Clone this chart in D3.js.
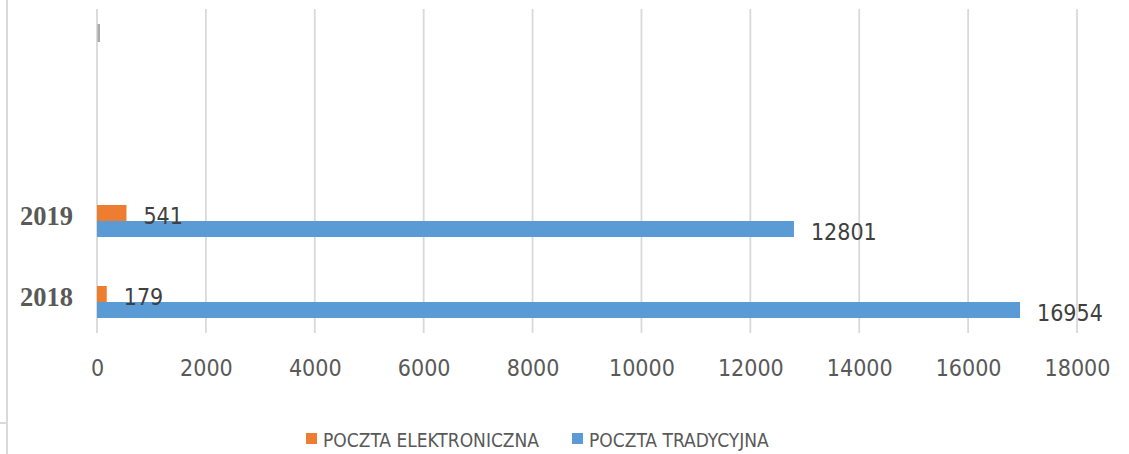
<!DOCTYPE html>
<html>
<head>
<meta charset="utf-8">
<script src="https://cdn.jsdelivr.net/npm/d3@7"></script>
<style>
  html, body { margin: 0; padding: 0; background: #fff; }
  svg { display: block; }
</style>
</head>
<body>
<svg id="chart" width="1129" height="454"></svg>
<script>
// ---- data ----
const categories = ["2019", "2018"];           // top to bottom
const seriesNames = ["POCZTA ELEKTRONICZNA", "POCZTA TRADYCYJNA"];
const elektroniczna = [541, 179];             // per category (2019, 2018)
const tradycyjna = [12801, 16954];
const tickValues = [0, 2000, 4000, 6000, 8000, 10000, 12000, 14000, 16000, 18000];
const seriesColors = ["#ED7D31", "#5B9BD5"];

const svg = d3.select("#chart");
const W = 1129, H = 454;
const plot = { left: 97, right: 1077, top: 9, bottom: 333 };

const x = d3.scaleLinear().domain([0, 18000]).range([plot.left, plot.right]);
const y = d3.scaleBand().domain(categories).range([180.5, 342.5]);
const ySub = d3.scaleBand().domain(seriesNames).range([-16, 16]);

const sansCond = "'DejaVu Sans Condensed', 'DejaVu Sans', sans-serif";

// frame artifacts (page border of the source document)
svg.append("line").attr("x1", 7).attr("x2", 7).attr("y1", 0).attr("y2", H)
  .attr("stroke", "#d9d9d9").attr("stroke-width", 2);
svg.append("line").attr("x1", 0).attr("x2", 7).attr("y1", 423).attr("y2", 423)
  .attr("stroke", "#d9d9d9").attr("stroke-width", 2);

// gridlines
svg.append("g").selectAll("line").data(tickValues).join("line")
  .attr("x1", d => x(d)).attr("x2", d => x(d))
  .attr("y1", plot.top).attr("y2", plot.bottom)
  .attr("stroke", "#d9d9d9").attr("stroke-width", 1.8);

// small grey cursor-like mark near the top of the axis
svg.append("rect")
  .attr("x", x(0) + 0.5).attr("y", 24).attr("width", 2.5).attr("height", 18)
  .attr("fill", "#aaaaaa");

// x axis tick labels
const xAxis = d3.axisBottom(x).tickValues(tickValues).tickSize(0).tickPadding(0)
  .tickFormat(d3.format("d"));
const gx = svg.append("g").attr("transform", `translate(0, ${plot.bottom})`).call(xAxis);
gx.select(".domain").remove();
gx.selectAll("text")
  .attr("y", 35).attr("dy", "0.35em")
  .attr("font-family", sansCond).attr("font-size", 23).attr("fill", "#595959");

// category labels
const yAxis = d3.axisLeft(y).tickSize(0).tickPadding(0);
const gy = svg.append("g").attr("transform", "translate(73, 0)").call(yAxis);
gy.select(".domain").remove();
gy.selectAll("text")
  .attr("x", 0).attr("dy", "0.14em")
  .attr("font-family", "'Liberation Serif', 'Times New Roman', serif")
  .attr("font-weight", "bold").attr("font-size", 26.5).attr("fill", "#595959");

// bars
const rows = [];
categories.forEach((c, i) => {
  rows.push({ cat: c, s: seriesNames[0], v: elektroniczna[i], color: seriesColors[0] });
  rows.push({ cat: c, s: seriesNames[1], v: tradycyjna[i], color: seriesColors[1] });
});
const center = c => y(c) + y.bandwidth() / 2;

svg.append("g").selectAll("rect").data(rows).join("rect")
  .attr("x", x(0))
  .attr("y", d => center(d.cat) + ySub(d.s))
  .attr("width", d => x(d.v) - x(0))
  .attr("height", ySub.bandwidth())
  .attr("fill", d => d.color);

// data labels
svg.append("g").selectAll("text").data(rows).join("text")
  .attr("x", d => x(d.v) + 17)
  .attr("y", d => center(d.cat) + ySub(d.s) + ySub.bandwidth() / 2 + 3)
  .attr("dominant-baseline", "central")
  .attr("font-family", sansCond).attr("font-size", 23).attr("fill", "#404040")
  .text(d => d.v);

// legend
const legendX = [306, 572];
const lg = svg.append("g").selectAll("g").data(seriesNames).join("g")
  .attr("transform", (d, i) => `translate(${legendX[i]}, 439)`);
lg.append("rect").attr("x", 0).attr("y", -6).attr("width", 11).attr("height", 11)
  .attr("fill", (d, i) => seriesColors[i]);
lg.append("text").attr("x", 17).attr("y", 1).attr("dominant-baseline", "central")
  .attr("font-family", sansCond).attr("font-size", 19).attr("fill", "#595959")
  .text(d => d);
</script>
</body>
</html>
